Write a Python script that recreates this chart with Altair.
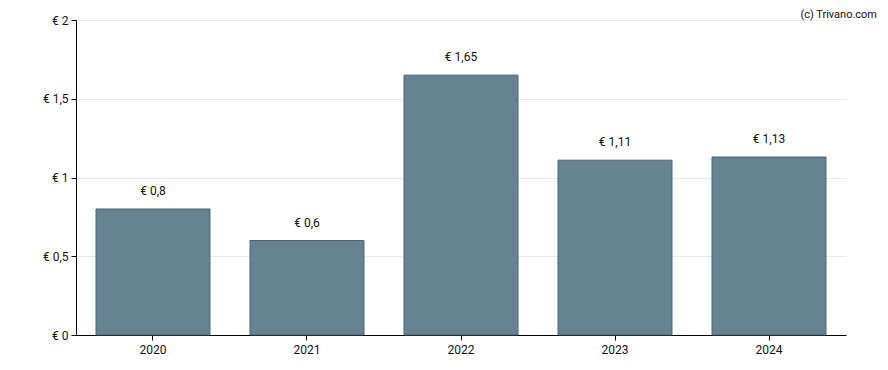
import altair as alt
import pandas as pd

years = ["2020", "2021", "2022", "2023", "2024"]
values = [0.8, 0.6, 1.65, 1.11, 1.13]
y_ticks = [0, 0.5, 1, 1.5, 2]

df = pd.DataFrame({"year": years, "value": values})
df["label"] = ["€ " + ("%g" % v).replace(".", ",") for v in values]

FONT = "Roboto"

base = alt.Chart(df).encode(
    x=alt.X("year:N", title=None, sort=years,
            scale=alt.Scale(paddingInner=0.26, paddingOuter=0.13),
            axis=alt.Axis(labelAngle=0, domainColor="#000", tickColor="#000",
                          tickSize=5, labelPadding=4, labelFontSize=12,
                          labelColor="#111", labelFont=FONT, grid=False)),
)

bars = base.mark_bar(color="#678293", stroke="#4a6274", strokeWidth=1).encode(
    y=alt.Y("value:Q", title=None,
            scale=alt.Scale(domain=[0, 2], nice=False),
            axis=alt.Axis(values=y_ticks, domainColor="#000", tickColor="#000",
                          tickSize=5, labelPadding=3, labelFontSize=12,
                          labelColor="#111", labelFont=FONT,
                          gridColor="#e8e8e8",
                          labelExpr="'€ ' + replace(toString(datum.value), '.', ',')")),
)

labels = base.mark_text(baseline="middle", dy=-18, fontSize=12, font=FONT, color="#111").encode(
    y=alt.Y("value:Q"),
    text="label:N",
)

credit = alt.Chart(pd.DataFrame({"t": ["(c) Trivano.com"]})).mark_text(
    align="right", baseline="top", fontSize=11, font=FONT, color="#111"
).encode(x=alt.value(801), y=alt.value(-11), text="t:N")

chart = alt.layer(bars, labels, credit).properties(
    width=770, height=315,
    autosize=alt.AutoSizeParams(type="none"),
    padding={"left": 68, "top": 12, "right": 34, "bottom": 27},
).configure(background="white", view=alt.ViewConfig(stroke=None))

chart.save("out.html", embed_options={"renderer": "svg", "actions": False})
